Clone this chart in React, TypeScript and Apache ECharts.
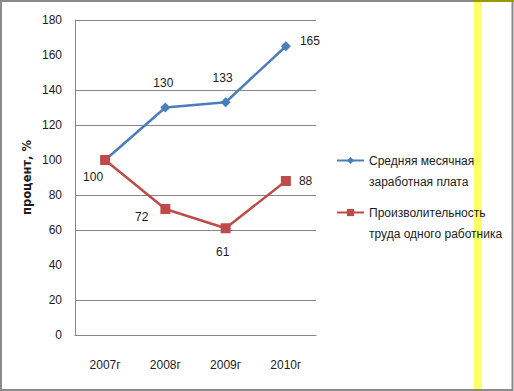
import React, { useEffect, useRef } from "react";
import * as echarts from "echarts";

const categories = ["2007г", "2008г", "2009г", "2010г"];
const wageValues = [100, 130, 133, 165];
const productivityValues = [100, 72, 61, 88];
const seriesNames = [
  "Средняя месячная заработная плата",
  "Производительность труда одного работника",
];
const legendLines: Record<string, string[]> = {
  "Средняя месячная заработная плата": ["Средняя месячная", "заработная плата"],
  "Производительность труда одного работника": ["Произволительность", "труда одного работника"],
};
const yTitle = "процент, %";

// label placement per point (styling only)
const wageLabelPlace: any[] = [
  null,
  { position: "top", distance: 14, offset: [-2, 0] },
  { position: "top", distance: 13, offset: [-3, 0] },
  { position: "right", distance: 9, offset: [0, -5] },
];
const prodLabelPlace: any[] = [
  { position: "bottom", distance: 6, offset: [-12, 0] },
  { position: "left", distance: 12, offset: [0, 8] },
  { position: "bottom", distance: 13, offset: [-3, 0] },
  { position: "right", distance: 8, offset: [0, 0] },
];

const FONT = "'Liberation Sans', Arial, sans-serif";
const FS = 12;
const TXT = "#1c1c1c";

function buildData(values: number[], places: any[]) {
  return values.map((v, i) => {
    const p = places[i];
    if (!p) return { value: v, label: { show: false } };
    return {
      value: v,
      label: {
        show: true,
        position: p.position,
        distance: p.distance,
        offset: p.offset,
        color: TXT,
        fontFamily: FONT,
        fontSize: FS,
      },
    };
  });
}

export default function App() {
  const ref = useRef<HTMLDivElement>(null);
  useEffect(() => {
    if (!ref.current) return;
    const chart = echarts.init(ref.current, undefined, { renderer: "svg" });
    const gridColor = "#868686";
    chart.setOption({
      animation: false,
      backgroundColor: "#ffffff",
      grid: { left: 75, top: 20, width: 241, height: 315, containLabel: false },
      xAxis: {
        type: "category",
        data: categories,
        boundaryGap: true,
        axisLine: { show: true, lineStyle: { color: gridColor, width: 1 } },
        axisTick: { show: false },
        axisLabel: { color: TXT, fontFamily: FONT, fontSize: FS, margin: 24 },
        splitLine: { show: false },
      },
      yAxis: {
        type: "value",
        min: 0,
        max: 180,
        interval: 20,
        name: yTitle,
        nameLocation: "middle",
        nameGap: 42,
        nameTextStyle: {
          fontFamily: "'DejaVu Sans', sans-serif",
          fontWeight: "bold",
          fontSize: 11.5,
          color: TXT,
        },
        axisLine: { show: true, lineStyle: { color: gridColor, width: 1 } },
        axisTick: { show: false },
        axisLabel: { color: TXT, fontFamily: FONT, fontSize: FS, margin: 13 },
        splitLine: {
          show: true,
          lineStyle: { color: [gridColor, gridColor, "rgba(0,0,0,0)"], width: 1 },
        },
      },
      legend: {
        orient: "vertical",
        left: 331,
        top: 124,
        itemWidth: 27,
        itemHeight: 9,
        itemGap: -11,
        data: seriesNames,
        formatter: (name: string) => {
          const l = legendLines[name] || [name, ""];
          return "\u00a0\n" + l[0] + "\n" + l[1];
        },
        textStyle: {
          color: TXT,
          fontFamily: FONT,
          fontSize: FS,
          lineHeight: 21,
        },
      },
      series: [
        {
          name: seriesNames[0],
          type: "line",
          data: buildData(wageValues, wageLabelPlace),
          symbol: "diamond",
          symbolSize: 10,
          itemStyle: { color: "#4a7ebb" },
          lineStyle: { color: "#4a7ebb", width: 2.5 },
        },
        {
          name: seriesNames[1],
          type: "line",
          data: buildData(productivityValues, prodLabelPlace),
          symbol: "rect",
          symbolSize: 10,
          itemStyle: { color: "#be4b48" },
          lineStyle: { color: "#be4b48", width: 2.5 },
        },
      ],
      graphic: [
        {
          type: "rect",
          shape: { x: 474, y: 0, width: 8, height: 391 },
          style: { fill: "#ffff66" },
          silent: true,
          z: -10,
        },
        {
          type: "rect",
          shape: { x: 1, y: 1, width: 511.5, height: 389 },
          style: { fill: "none", stroke: "#8a8a8a", lineWidth: 2 },
          silent: true,
        },
        {
          type: "line",
          shape: { x1: 473, y1: 1, x2: 514, y2: 1 },
          style: { stroke: "#9a9a00", lineWidth: 2 },
          silent: true,
        },
      ],
    });
    return () => chart.dispose();
  }, []);
  return (
    <div
      ref={ref}
      style={{ position: "fixed", left: 0, top: 0, width: 514, height: 391 }}
    />
  );
}
